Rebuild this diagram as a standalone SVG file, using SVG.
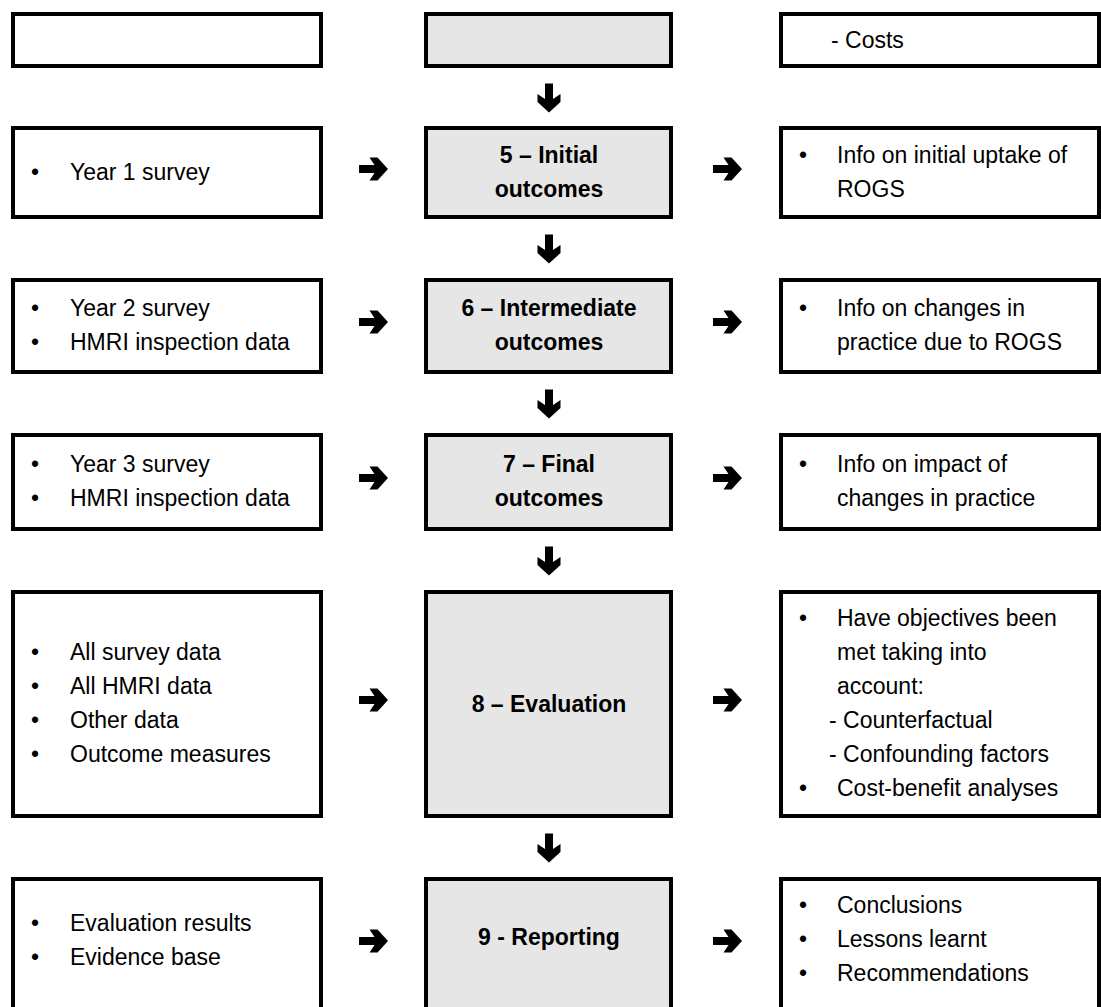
<svg xmlns="http://www.w3.org/2000/svg" width="1101" height="1007" viewBox="0 0 1101 1007">
<style>
.box{fill:#ffffff;stroke:#000000;stroke-width:4}
.mid{fill:#e6e6e6;stroke:#000000;stroke-width:4}
.t{font-family:"Liberation Sans",Arial,sans-serif;font-size:23px;fill:#000000}
.b{font-family:"Liberation Sans",Arial,sans-serif;font-size:23px;font-weight:bold;fill:#000000;text-anchor:middle}
.arr{fill:#000000}
</style>
<defs>
<path id="ar" d="M-14.5,-4 L1,-4 L-4,-11.5 L4,-11.5 L14.5,0 L4,11.5 L-4,11.5 L1,4 L-14.5,4 Z"/>
</defs>
<rect x="0" y="0" width="1101" height="1007" fill="#ffffff"/>

<g id="row1-left"><rect class="box" x="13" y="14" width="308" height="52"/></g>
<g id="row1-center"><rect class="mid" x="426" y="14" width="245" height="52"/></g>
<g id="row1-right"><rect class="box" x="781" y="14" width="318" height="52"/>
<text class="t" x="831" y="48">- Costs</text></g>

<g id="row2-left"><rect class="box" x="13" y="128" width="308" height="89"/>
<text class="t" x="31" y="180">•</text><text class="t" x="70" y="180">Year 1 survey</text></g>
<g id="row2-center"><rect class="mid" x="426" y="128" width="245" height="89"/>
<text class="b" x="549" y="163">5 – Initial</text><text class="b" x="549" y="197">outcomes</text></g>
<g id="row2-right"><rect class="box" x="781" y="128" width="318" height="89"/>
<text class="t" x="799" y="163">•</text><text class="t" x="837" y="163">Info on initial uptake of</text>
<text class="t" x="837" y="197">ROGS</text></g>

<g id="row3-left"><rect class="box" x="13" y="280" width="308" height="92"/>
<text class="t" x="31" y="316">•</text><text class="t" x="70" y="316">Year 2 survey</text>
<text class="t" x="31" y="350">•</text><text class="t" x="70" y="350">HMRI inspection data</text></g>
<g id="row3-center"><rect class="mid" x="426" y="280" width="245" height="92"/>
<text class="b" x="549" y="316">6 – Intermediate</text><text class="b" x="549" y="350">outcomes</text></g>
<g id="row3-right"><rect class="box" x="781" y="280" width="318" height="92"/>
<text class="t" x="799" y="316">•</text><text class="t" x="837" y="316">Info on changes in</text>
<text class="t" x="837" y="350">practice due to ROGS</text></g>

<g id="row4-left"><rect class="box" x="13" y="435" width="308" height="94"/>
<text class="t" x="31" y="472">•</text><text class="t" x="70" y="472">Year 3 survey</text>
<text class="t" x="31" y="506">•</text><text class="t" x="70" y="506">HMRI inspection data</text></g>
<g id="row4-center"><rect class="mid" x="426" y="435" width="245" height="94"/>
<text class="b" x="549" y="472">7 – Final</text><text class="b" x="549" y="506">outcomes</text></g>
<g id="row4-right"><rect class="box" x="781" y="435" width="318" height="94"/>
<text class="t" x="799" y="472">•</text><text class="t" x="837" y="472">Info on impact of</text>
<text class="t" x="837" y="506">changes in practice</text></g>

<g id="row5-left"><rect class="box" x="13" y="592" width="308" height="224"/>
<text class="t" x="31" y="660">•</text><text class="t" x="70" y="660">All survey data</text>
<text class="t" x="31" y="694">•</text><text class="t" x="70" y="694">All HMRI data</text>
<text class="t" x="31" y="728">•</text><text class="t" x="70" y="728">Other data</text>
<text class="t" x="31" y="762">•</text><text class="t" x="70" y="762">Outcome measures</text></g>
<g id="row5-center"><rect class="mid" x="426" y="592" width="245" height="224"/>
<text class="b" x="549" y="712">8 – Evaluation</text></g>
<g id="row5-right"><rect class="box" x="781" y="592" width="318" height="224"/>
<text class="t" x="799" y="626">•</text><text class="t" x="837" y="626">Have objectives been</text>
<text class="t" x="837" y="660">met taking into</text>
<text class="t" x="837" y="694">account:</text>
<text class="t" x="829" y="728">- Counterfactual</text>
<text class="t" x="829" y="762">- Confounding factors</text>
<text class="t" x="799" y="796">•</text><text class="t" x="837" y="796">Cost-benefit analyses</text></g>

<g id="row6-left"><rect class="box" x="13" y="879" width="308" height="200"/>
<text class="t" x="31" y="931">•</text><text class="t" x="70" y="931">Evaluation results</text>
<text class="t" x="31" y="965">•</text><text class="t" x="70" y="965">Evidence base</text></g>
<g id="row6-center"><rect class="mid" x="426" y="879" width="245" height="200"/>
<text class="b" x="549" y="945">9 - Reporting</text></g>
<g id="row6-right"><rect class="box" x="781" y="879" width="318" height="200"/>
<text class="t" x="799" y="913">•</text><text class="t" x="837" y="913">Conclusions</text>
<text class="t" x="799" y="947">•</text><text class="t" x="837" y="947">Lessons learnt</text>
<text class="t" x="799" y="981">•</text><text class="t" x="837" y="981">Recommendations</text></g>

<g id="connectors" class="arr">
<use href="#ar" transform="translate(549,98) rotate(90)"/>
<use href="#ar" transform="translate(549,249) rotate(90)"/>
<use href="#ar" transform="translate(549,404) rotate(90)"/>
<use href="#ar" transform="translate(549,561) rotate(90)"/>
<use href="#ar" transform="translate(549,848) rotate(90)"/>
<use href="#ar" transform="translate(373.5,169)"/>
<use href="#ar" transform="translate(727.5,169)"/>
<use href="#ar" transform="translate(373.5,322)"/>
<use href="#ar" transform="translate(727.5,322)"/>
<use href="#ar" transform="translate(373.5,478)"/>
<use href="#ar" transform="translate(727.5,478)"/>
<use href="#ar" transform="translate(373.5,700)"/>
<use href="#ar" transform="translate(727.5,700)"/>
<use href="#ar" transform="translate(373.5,941)"/>
<use href="#ar" transform="translate(727.5,941)"/>
</g>
</svg>
